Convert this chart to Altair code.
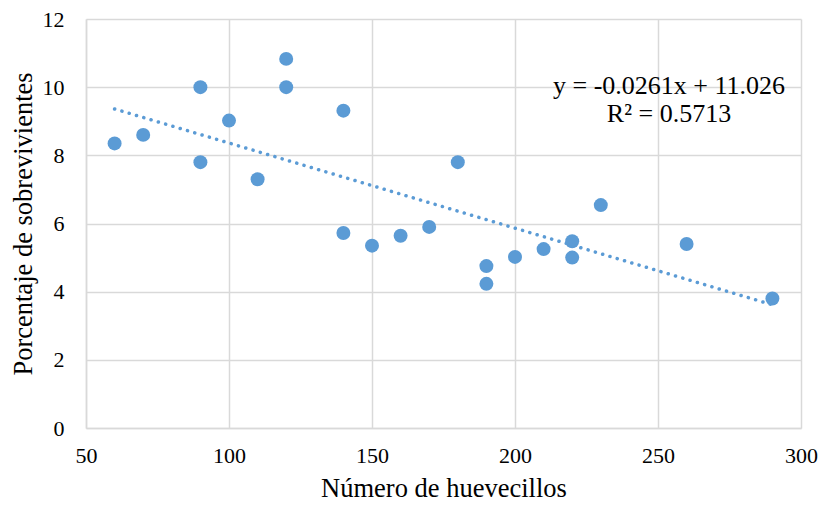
import altair as alt
import pandas as pd

huevecillos = [60, 70, 90, 90, 100, 110, 120, 120, 140, 140, 150, 160, 170, 180,
               190, 190, 200, 210, 220, 220, 230, 260, 290]
sobrevivientes = [8.35, 8.6, 10.0, 7.8, 9.02, 7.3, 10.83, 10.0, 9.31, 5.72, 5.35, 5.64,
                  5.9, 7.8, 4.75, 4.23, 5.02, 5.25, 5.48, 5.0, 6.54, 5.4, 3.8]
eq_lines = ["y = -0.0261x + 11.026", "R² = 0.5713"]

df = pd.DataFrame({"x": huevecillos, "y": sobrevivientes})
FONT = "Liberation Serif"
BLUE = "#5B9BD5"

xs = alt.X("x:Q", scale=alt.Scale(domain=[50, 300], nice=False, zero=False),
           axis=alt.Axis(values=[50, 100, 150, 200, 250, 300], title="Número de huevecillos",
                         labelPadding=17, titlePadding=9, labelFlush=False))
ys = alt.Y("y:Q", scale=alt.Scale(domain=[0, 12], nice=False),
           axis=alt.Axis(values=[0, 2, 4, 6, 8, 10, 12], title="Porcentaje de sobrevivientes",
                         labelPadding=22, titlePadding=5, labelFlush=False))

points = alt.Chart(df).mark_circle(size=195, color=BLUE, opacity=1).encode(x=xs, y=ys)

trend = alt.Chart(df).transform_regression("x", "y").mark_line(
    color=BLUE, strokeWidth=3.5, strokeDash=[0.1, 7.5], strokeCap="round"
).encode(x="x:Q", y="y:Q")

t1 = alt.Chart(pd.DataFrame({"t": [eq_lines[0]]})).mark_text(
    font=FONT, fontSize=26, color="black", align="center", baseline="middle"
).encode(text="t:N", x=alt.value(583), y=alt.value(67))
t2 = alt.Chart(pd.DataFrame({"t": [eq_lines[1]]})).mark_text(
    font=FONT, fontSize=26, color="black", align="center", baseline="middle"
).encode(text="t:N", x=alt.value(583), y=alt.value(95))

chart = alt.layer(points, trend, t1, t2).properties(
    width=715, height=409,
    autosize=alt.AutoSizeParams(type="none"),
    padding={"left": 78, "top": 11, "right": 17, "bottom": 86},
).configure_view(stroke=None).configure_axis(
    labelFont=FONT, titleFont=FONT, labelFontSize=22, titleFontSize=26.5,
    labelColor="black", titleColor="black", titleFontWeight="normal",
    gridColor="#d9d9d9", gridWidth=1.5, domainColor="#d9d9d9", domainWidth=1.5,
    ticks=False,
)

chart.save("out.html", embed_options={"renderer": "svg", "actions": False})
